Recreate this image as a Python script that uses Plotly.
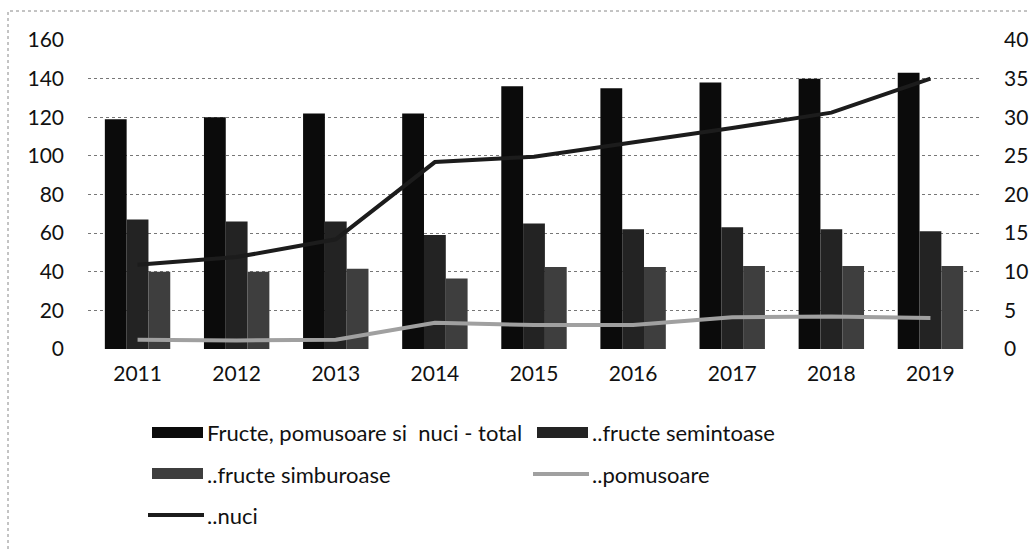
import plotly.graph_objects as go

# Chart data
years = ["2011", "2012", "2013", "2014", "2015", "2016", "2017", "2018", "2019"]
total = [119, 120, 122, 122, 136, 135, 138, 140, 143]
semintoase = [67, 66, 66, 59, 65, 62, 63, 62, 61]
simburoase = [40, 40, 41.5, 36.5, 42.5, 42.5, 43, 43, 43]
pomusoare = [1.2, 1.1, 1.2, 3.4, 3.1, 3.1, 4.1, 4.2, 4.0]
nuci = [10.9, 11.9, 14.2, 24.2, 24.9, 26.7, 28.6, 30.6, 35]

series_names = [
    "Fructe, pomusoare si  nuci - total",
    "..fructe semintoase",
    "..fructe simburoase",
    "..pomusoare",
    "..nuci",
]
series_kinds = ["bar", "bar", "bar", "line", "line"]
series_colors = ["#0b0b0b", "#232323", "#3e3e3e", "#a0a0a0", "#1c1c1c"]

FONT = "Lato"

# Plot area in pixels (figure is 1030 x 551)
W, H = 1030, 551
L, R, T, B = 88, 980, 40, 349


def paper_x(px):
    return (px - L) / (R - L)


def paper_y(py):
    return (B - py) / (B - T)


fig = go.Figure()

# Bars on the left axis
for name, vals, color in zip(series_names[:3], [total, semintoase, simburoase], series_colors[:3]):
    fig.add_trace(go.Bar(x=years, y=vals, name=name, marker_color=color,
                         marker_line_width=0, yaxis="y"))

# Lines on the right axis
for name, vals, color in zip(series_names[3:], [pomusoare, nuci], series_colors[3:]):
    fig.add_trace(go.Scatter(x=years, y=vals, name=name, mode="lines",
                             line=dict(color=color, width=4), yaxis="y2"))

# Manual legend laid out like the original (two columns)
col_x = [152, 537]
row_y = [433, 474, 515]
shapes = []
annotations = []
for i, (name, kind, color) in enumerate(zip(series_names, series_kinds, series_colors)):
    sx = col_x[i % 2]
    sy = row_y[i // 2]
    if kind == "bar":
        shapes.append(dict(type="rect", xref="paper", yref="paper",
                           x0=paper_x(sx), x1=paper_x(sx + 51),
                           y0=paper_y(sy + 5), y1=paper_y(sy - 6),
                           fillcolor=color, line_width=0))
    else:
        shapes.append(dict(type="line", xref="paper", yref="paper",
                           x0=paper_x(sx - 4), x1=paper_x(sx + 52),
                           y0=paper_y(sy), y1=paper_y(sy),
                           line=dict(color=color, width=4)))
    annotations.append(dict(text=name, xref="paper", yref="paper",
                            x=paper_x(sx + 53), y=paper_y(sy),
                            xanchor="left", yanchor="middle", showarrow=False,
                            font=dict(family=FONT, size=22, color="#111")))

# Dotted outer border of the chart (right and bottom edges fall outside the window)
shapes.append(dict(type="rect", xref="paper", yref="paper",
                   x0=paper_x(8), x1=paper_x(1040), y0=paper_y(562), y1=paper_y(11),
                   line=dict(color="#888", width=1, dash="dot"), layer="below"))

fig.update_layout(
    width=W, height=H,
    margin=dict(l=L, r=W - R, t=T, b=H - B),
    paper_bgcolor="white", plot_bgcolor="white",
    barmode="group", bargap=0.34, bargroupgap=0,
    showlegend=False,
    font=dict(family=FONT, size=21, color="#111"),
    xaxis=dict(showgrid=False, showline=False, ticks="", ticklabelstandoff=10,
               automargin=False),
    yaxis=dict(range=[0, 160], dtick=20, showgrid=True, gridcolor="#777",
               griddash="dot", gridwidth=1, zeroline=False, showline=False,
               ticks="", ticklabelstandoff=23, automargin=False),
    yaxis2=dict(range=[0, 40], dtick=5, overlaying="y", side="right",
                showgrid=False, zeroline=False, showline=False, ticks="",
                ticklabelstandoff=23, automargin=False),
    shapes=shapes,
    annotations=annotations,
)

# Remove the default page margin so the chart sits at the window origin
fig.write_html("out.html", config={"displayModeBar": False},
               post_script="document.body.style.margin='0';")
